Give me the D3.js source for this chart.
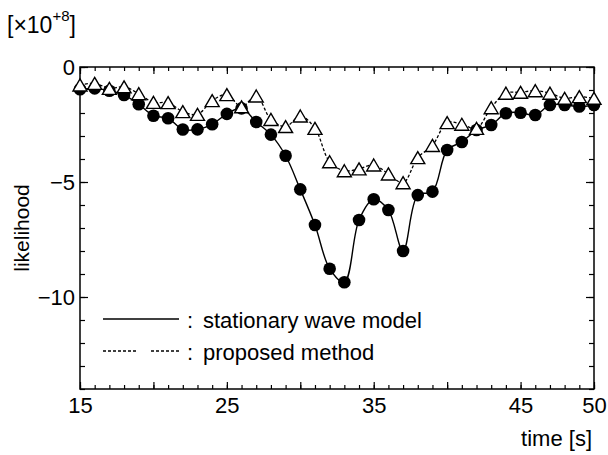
<!DOCTYPE html>
<html>
<head>
<meta charset="utf-8">
<script src="https://cdn.jsdelivr.net/npm/d3@7"></script>
<style>
  body { margin: 0; background: #fff; }
  text { font-family: "Liberation Sans", Arial, sans-serif; fill: #000; }
</style>
</head>
<body>
<div class="chart"></div>
<script>
// time axis [s]
var times = d3.range(15, 51);
// stationary wave model (filled circles), x10^8
var stationary = [-0.97, -0.93, -1.03, -1.22, -1.62, -2.12, -2.23, -2.72, -2.71, -2.49,
                  -2.04, -1.80, -2.39, -2.94, -3.86, -5.32, -6.87, -8.77, -9.36, -6.65,
                  -5.75, -6.22, -8.00, -5.57, -5.42, -3.61, -3.26, -2.74, -2.52, -2.01,
                  -1.99, -2.09, -1.65, -1.65, -1.72, -1.65];
// proposed method (open triangles)
var proposed = [-0.78, -0.71, -0.93, -0.86, -1.16, -1.54, -1.55, -1.94, -2.06, -1.46,
                -1.20, -1.73, -1.26, -2.28, -2.59, -2.13, -2.67, -4.12, -4.51, -4.43,
                -4.26, -4.65, -5.03, -3.94, -3.41, -2.42, -2.49, -2.67, -1.77, -1.14,
                -1.10, -1.03, -1.14, -1.36, -1.29, -1.36];
var xLabels = [15, 25, 35, 45, 50];
var yLabels = [0, -5, -10];
var legendNames = ["stationary wave model", "proposed method"];

var svgWidth = 608, svgHeight = 455;
var margin = {top: 67, right: 14, bottom: 66, left: 80};
var chart_width = svgWidth - margin.left - margin.right,
    chart_height = svgHeight - margin.top - margin.bottom;

var svg = d3.select(".chart").append("svg")
    .attr("width", svgWidth)
    .attr("height", svgHeight)
    .style("background", "#fff");

var g = svg.append("g")
    .attr("transform", "translate(" + margin.left + "," + margin.top + ")");

var x = d3.scaleLinear().domain([15, 50]).range([0, chart_width]);
var y = d3.scaleLinear().domain([-14, 0]).range([chart_height, 0]);

// ticks, all pointing inward
function styleAxis(sel) {
  sel.select(".domain").remove();
  sel.selectAll("line").attr("stroke", "#000").attr("stroke-width", 1.2);
  sel.selectAll("text").style("font-size", "22px").attr("fill", "#000");
}

var minorX = d3.range(15, 51), majorX = d3.range(15, 51, 5);
var minorY = d3.range(-14, 1), majorY = [0, -5, -10];

g.append("g").attr("transform", "translate(0," + chart_height + ")")
  .call(d3.axisBottom(x).tickValues(minorX).tickSize(-4).tickFormat(""))
  .call(styleAxis);
g.append("g").attr("transform", "translate(0," + chart_height + ")")
  .call(d3.axisBottom(x).tickValues(majorX).tickSize(-7).tickPadding(8)
    .tickFormat(function(d){ return xLabels.indexOf(d) >= 0 ? d : ""; }))
  .call(styleAxis);
g.append("g")
  .call(d3.axisTop(x).tickValues(minorX).tickSize(-4).tickFormat(""))
  .call(styleAxis);
g.append("g")
  .call(d3.axisTop(x).tickValues(majorX).tickSize(-7).tickFormat(""))
  .call(styleAxis);

g.append("g")
  .call(d3.axisLeft(y).tickValues(minorY).tickSize(-5).tickFormat(""))
  .call(styleAxis);
g.append("g")
  .call(d3.axisLeft(y).tickValues(majorY).tickSize(-8).tickPadding(5)
    .tickFormat(function(d){ return yLabels.indexOf(d) >= 0 ? d3.format("d")(d) : ""; }))
  .call(styleAxis);
g.append("g").attr("transform", "translate(" + chart_width + ",0)")
  .call(d3.axisRight(y).tickValues(minorY).tickSize(-5).tickFormat(""))
  .call(styleAxis);
g.append("g").attr("transform", "translate(" + chart_width + ",0)")
  .call(d3.axisRight(y).tickValues(majorY).tickSize(-8).tickFormat(""))
  .call(styleAxis);

// frame
g.append("rect")
  .attr("width", chart_width).attr("height", chart_height)
  .attr("fill", "none").attr("stroke", "#000").attr("stroke-width", 1.5);

// lines
var line = d3.line()
  .x(function(d){ return x(d[0]); })
  .y(function(d){ return y(d[1]); })
  .curve(d3.curveCatmullRom.alpha(0.5));

var statData = times.map(function(t, i){ return [t, stationary[i]]; });
var propData = times.map(function(t, i){ return [t, proposed[i]]; });

g.append("path").datum(statData)
  .attr("d", line).attr("fill", "none")
  .attr("stroke", "#000").attr("stroke-width", 1.4);
g.append("path").datum(propData)
  .attr("d", line).attr("fill", "none")
  .attr("stroke", "#000").attr("stroke-width", 1.3)
  .attr("stroke-dasharray", "3,2");

// markers: circles under, triangles on top
g.selectAll(".stat").data(statData).enter()
  .append("circle").classed("stat", true)
  .attr("cx", function(d){ return x(d[0]); })
  .attr("cy", function(d){ return y(d[1]); })
  .attr("r", 6.3).attr("fill", "#000");

var tri = "M0,-6L7,6L-7,6Z";
g.selectAll(".prop").data(propData).enter()
  .append("path").classed("prop", true)
  .attr("d", tri)
  .attr("transform", function(d){ return "translate(" + x(d[0]) + "," + y(d[1]) + ")"; })
  .attr("fill", "#fff").attr("stroke", "#000").attr("stroke-width", 1.4)
  .attr("stroke-linejoin", "miter");

// legend
var leg = svg.append("g");
leg.append("line")
  .attr("x1", 103).attr("x2", 179).attr("y1", 319).attr("y2", 319)
  .attr("stroke", "#000").attr("stroke-width", 1.3);
[[103, 138], [151, 179]].forEach(function(s){
  leg.append("line")
    .attr("x1", s[0]).attr("x2", s[1]).attr("y1", 351).attr("y2", 351)
    .attr("stroke", "#000").attr("stroke-width", 1.3)
    .attr("stroke-dasharray", "3,2");
});
legendNames.forEach(function(name, i){
  leg.append("text").attr("x", 187).attr("y", 328 + i * 32)
    .style("font-size", "22px").text(":");
  leg.append("text").attr("x", 203).attr("y", 328 + i * 32)
    .style("font-size", "22px").text(name);
});

// axis titles
svg.append("text")
  .attr("transform", "translate(29," + (margin.top + chart_height / 2) + ") rotate(-90)")
  .attr("text-anchor", "middle")
  .style("font-size", "21px")
  .text("likelihood");

svg.append("text")
  .attr("x", 592).attr("y", 446)
  .attr("text-anchor", "end")
  .style("font-size", "22px")
  .text("time [s]");

var unit = svg.append("text").attr("x", 7).attr("y", 33).style("font-size", "23px");
unit.append("tspan").text("[\u00d710");
unit.append("tspan").attr("dy", -12).style("font-size", "15px").text("+8");
unit.append("tspan").attr("dy", 12).text("]");
</script>
</body>
</html>
